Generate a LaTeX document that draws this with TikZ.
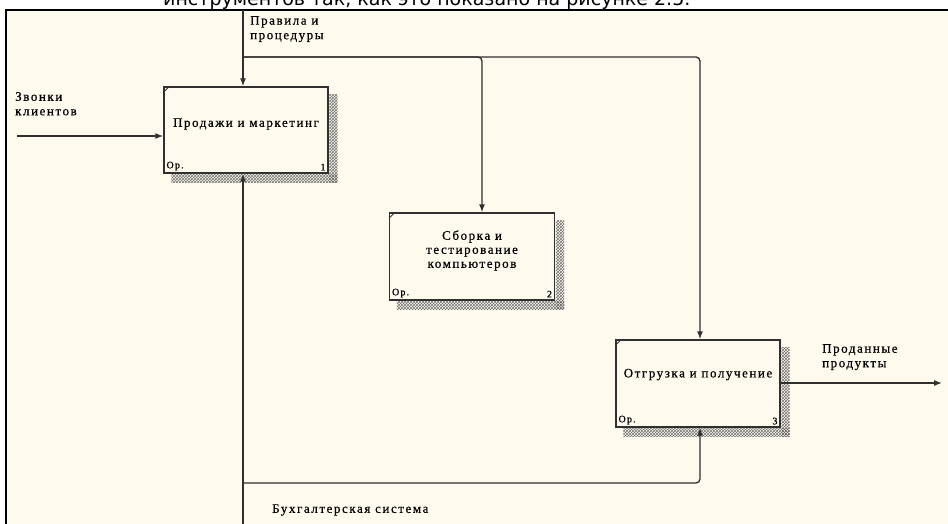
\documentclass[tikz,border=0pt]{standalone}
\usepackage{fontspec}
\setmainfont{Liberation Serif}[LetterSpace=12,FakeBold=0.6]
\newfontfamily\topfont{DejaVu Sans}
\usetikzlibrary{arrows.meta,patterns,calc}
\definecolor{paper}{HTML}{FFFAEE}
\definecolor{ink}{HTML}{303030}
\definecolor{hatch}{HTML}{707070}
\begin{document}
\begin{tikzpicture}[x=1pt,y=-1pt,
  box/.style={draw=ink,line width=1.3pt,fill=paper,inner sep=0pt},
  btxt/.style={align=center,inner sep=0pt,font=\fontsize{13}{14}\selectfont},
  lbl/.style={font=\fontsize{13}{14.5}\selectfont,align=left,inner sep=0pt},
  small/.style={font=\fontsize{10}{11}\selectfont,inner sep=0pt},
  conn/.style={draw=ink,line width=1.3pt,rounded corners=4pt},
  arr/.style={conn,-{Latex[length=8pt,width=6pt]}},
  shade/.style={pattern=crosshatch,pattern color=hatch}]
\useasboundingbox (0,0) rectangle (948,524);
\clip (0,0) rectangle (948,524);
\fill[white] (0,0) rectangle (948,524);
\fill[paper] (6,10) rectangle (948,524);
\draw[black,line width=1.6pt] (6,524) -- (6,10) -- (948,10);
\node[anchor=base west,inner sep=0pt,font=\topfont\fontsize{19}{20}\selectfont] (toptext) at (163,6) {инструментов так, как это показано на рисунке 2.5.};

% boxes
\node[box,minimum width=164pt,minimum height=86pt] (b1) at (246,130) {};
\node[box,minimum width=165pt,minimum height=87pt] (b2) at (472,256.5) {};
\node[box,minimum width=164pt,minimum height=87pt] (b3) at (698,383.5) {};
\node[btxt] (t1) at ($(b1.center)+(0,-6)$) {Продажи и маркетинг};
\node[btxt] (t2) at ($(b2.center)+(0,-6)$) {Сборка и\\тестирование\\компьютеров};
\node[btxt] (t3) at ($(b3.center)+(0,-9)$) {Отгрузка и получение};

\foreach \b/\n in {b1/1,b2/2,b3/3}{
  \fill[shade] ($(\b.north east)+(0.7,8)$) rectangle ($(\b.south east)+(9,9)$);
  \fill[shade] ($(\b.south west)+(8,0.7)$) rectangle ($(\b.south east)+(9,9)$);
  \draw[ink,line width=0.8pt] ($(\b.north west)+(0,6)$) -- ($(\b.north west)+(6,0)$);
  \node[small,anchor=south west] (\b op) at ($(\b.south west)+(3,-3)$) {Op.};
  \node[small,anchor=south east] (\b num) at ($(\b.south east)+(-3,-3)$) {\n};
}

% labels
\node[lbl,anchor=north west] (lctl) at (250,16) {Правила и\\процедуры};
\node[lbl,anchor=north west] (lin) at (15,92) {Звонки\\клиентов};
\node[lbl,anchor=north west] (lout) at (822,344) {Проданные\\продукты};
\node[lbl,anchor=west] (lmech) at (272,510) {Бухгалтерская система};

% coordinates
\coordinate (ctop) at (243,10);
\coordinate (cj) at (243,57);
\coordinate (k2) at (482,57);
\coordinate (k3) at (700,57);
\coordinate (in1) at (17,136);
\coordinate (mbot) at (243,524);
\coordinate (mj) at (243,483);
\coordinate (m3) at (700,483);
\coordinate (out) at (942,383);

% connectors
\draw[arr] (ctop) -- (ctop |- b1.north);
\draw[arr] (cj) -- (k2) -- (k2 |- b2.north);
\draw[arr] (cj) -- (k3) -- (k3 |- b3.north);
\draw[arr] (in1) -- (in1 -| b1.west);
\draw[arr] (mbot) -- (mbot |- b1.south);
\draw[arr] (mj) -- (m3) -- (m3 |- b3.south);
\draw[arr] (out -| b3.east) -- (out);
\end{tikzpicture}
\end{document}
